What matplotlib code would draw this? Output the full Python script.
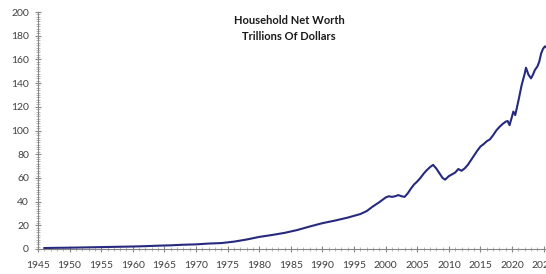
import matplotlib
matplotlib.use("Agg")
import matplotlib.pyplot as plt
from matplotlib.ticker import MultipleLocator

# Household net worth, trillions of dollars
years = [1946, 1948, 1950, 1952, 1954, 1956, 1958, 1960, 1962, 1964, 1966, 1968,
         1970, 1972, 1974, 1976, 1978, 1980, 1982, 1984, 1986, 1988, 1990, 1992,
         1994, 1996, 1997, 1998, 1999, 2000, 2000.5, 2001, 2001.5, 2002, 2002.5,
         2003, 2003.5, 2004, 2004.5, 2005, 2005.5, 2006, 2006.5, 2007, 2007.5,
         2008, 2008.5, 2009, 2009.4, 2010, 2010.5, 2011, 2011.5, 2012, 2012.5,
         2013, 2013.5, 2014, 2014.5, 2015, 2015.5, 2016, 2016.5, 2017, 2017.5,
         2018, 2018.5, 2019, 2019.3, 2019.6, 2020, 2020.2, 2020.5, 2021, 2021.5,
         2022, 2022.2, 2022.6, 2023, 2023.3, 2023.6, 2024, 2024.3, 2024.6, 2024.9,
         2025.2, 2025.5]
net_worth = [0.8, 1.0, 1.1, 1.3, 1.5, 1.7, 1.9, 2.1, 2.4, 2.8, 3.1, 3.6,
             3.9, 4.6, 5.0, 6.2, 8.0, 10.2, 11.8, 13.6, 16.0, 19.0, 21.8, 24.0,
             26.5, 29.5, 32.0, 36.0, 39.5, 43.5, 44.5, 44.0, 44.5, 45.5, 44.5,
             44.0, 47.0, 51.0, 54.5, 57.0, 60.0, 63.5, 66.5, 69.0, 71.0,
             68.0, 64.0, 60.0, 58.5, 61.5, 63.0, 64.5, 67.5, 66.0, 68.0,
             71.0, 75.0, 79.0, 83.0, 86.5, 88.5, 91.0, 92.5, 96.0, 100.0,
             103.0, 105.5, 107.5, 108.0, 104.5, 112.0, 116.0, 113.0, 125.0, 138.0,
             148.0, 153.0, 147.0, 144.0, 147.0, 151.0, 154.0, 158.0, 165.0, 169.0,
             171.0, 170.0]

fig = plt.figure(figsize=(5.46, 2.74), dpi=100)
ax = fig.add_axes([38/546, 25/274, 512/546, 237/274])

ax.plot(years, net_worth, color='#262a7e', lw=1.5, solid_joinstyle='round')

ax.set_xlim(1945, 2026)
ax.set_ylim(0, 200)
ax.xaxis.set_major_locator(MultipleLocator(5))
ax.xaxis.set_minor_locator(MultipleLocator(1))
ax.yaxis.set_major_locator(MultipleLocator(20))
ax.yaxis.set_minor_locator(MultipleLocator(2))

for s in ['top', 'right']:
    ax.spines[s].set_visible(False)
for s in ['left', 'bottom']:
    ax.spines[s].set_color('#868686')
    ax.spines[s].set_linewidth(0.8)

ax.tick_params(which='major', direction='inout', length=5, width=0.8,
               color='#868686', labelsize=7.5, labelcolor='#404040')
ax.tick_params(which='minor', direction='inout', length=2.5, width=0.5, color='#9a9a9a')
ax.tick_params(axis='x', pad=6)
ax.tick_params(axis='y', pad=4)
for lab in ax.get_xticklabels() + ax.get_yticklabels():
    lab.set_family('Lato')

fig.text(289/546, 1 - 20/274, 'Household Net Worth', ha='center', va='center',
         fontsize=8, fontweight='bold', family='Lato', color='#1a1a1a')
fig.text(289/546, 1 - 37/274, 'Trillions Of Dollars', ha='center', va='center',
         fontsize=8, fontweight='bold', family='Lato', color='#1a1a1a')

fig.savefig('out.png', dpi=100)
